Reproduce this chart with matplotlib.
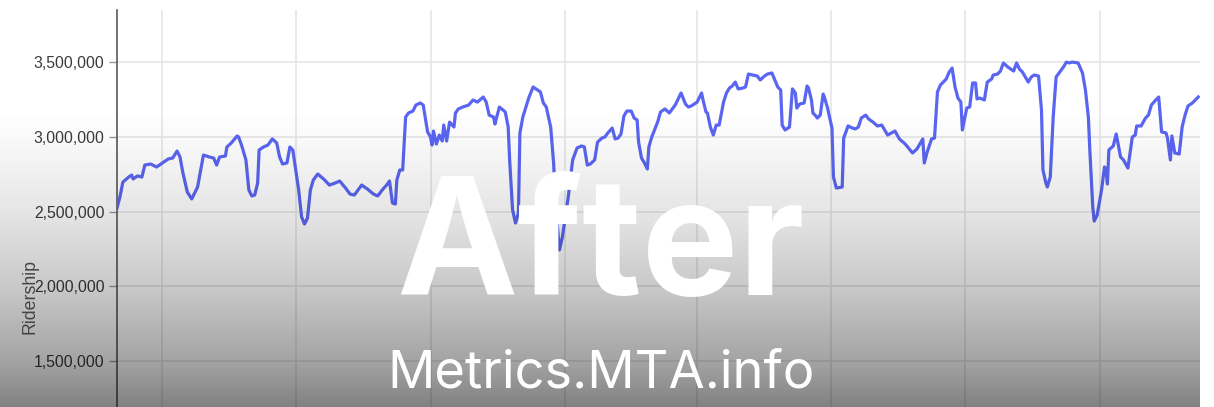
import numpy as np
import pandas as pd
import matplotlib
matplotlib.use("Agg")
import matplotlib.pyplot as plt
import matplotlib.dates as mdates
from matplotlib.ticker import FuncFormatter

# ---- data ----
start_date = "2017-03-01"
days = [0, 2, 4, 8, 10, 11, 14, 17, 19, 23, 27, 31, 35, 38, 41, 43, 45, 48, 51, 55,
        59, 61, 63, 66, 68, 70, 74, 75, 78, 82, 83, 85, 87, 88, 90, 92, 94, 96, 97, 100,
        103, 106, 109, 111, 113, 116, 118, 120, 122, 124, 126, 128, 130, 132, 134, 137, 141, 145, 149, 152,
        156, 159, 162, 167, 171, 175, 178, 181, 184, 186, 188, 190, 191, 193, 195, 197, 199, 202, 204, 207,
        209, 212, 214, 215, 216, 218, 220, 222, 223, 225, 227, 230, 231, 233, 236, 240, 243, 246, 250, 252,
        254, 257, 258, 259, 261, 265, 267, 268, 270, 272, 274, 275, 277, 281, 284, 287, 289, 291, 293, 296,
        298, 300, 302, 304, 308, 311, 314, 317, 319, 321, 323, 326, 328, 331, 333, 335, 338, 340, 342, 344,
        346, 348, 351, 353, 355, 356, 358, 360, 362, 363, 365, 369, 371, 374, 377, 381, 385, 388, 390, 392,
        396, 399, 400, 402, 403, 405, 407, 409, 411, 414, 416, 418, 420, 422, 424, 427, 429, 431, 434, 437,
        439, 442, 444, 447, 449, 451, 453, 454, 456, 459, 461, 463, 464, 466, 469, 471, 472, 474, 475, 477,
        478, 480, 482, 483, 485, 488, 489, 491, 495, 496, 499, 502, 504, 506, 508, 511, 513, 516, 519, 522,
        524, 526, 531, 534, 538, 543, 546, 550, 551, 553, 556, 558, 560, 562, 564, 566, 568, 570, 572, 574,
        576, 577, 580, 582, 584, 586, 587, 589, 592, 594, 597, 598, 601, 603, 605, 608, 612, 614, 616, 618,
        620, 622, 624, 626, 629, 631, 632, 634, 635, 637, 639, 641, 644, 646, 648, 650, 652, 656, 659, 661,
        663, 664, 666, 667, 669, 672, 674, 675, 676, 677, 680, 682, 685, 687, 690, 693, 695, 696, 699, 702,
        704, 706, 709, 711, 713, 716, 717, 719, 720, 722, 725, 727, 729, 731, 734, 736, 738]
ridership_k = [2524, 2598, 2698, 2732, 2745, 2719, 2739, 2732, 2812, 2819, 2799, 2826, 2853, 2859, 2906, 2866, 2759, 2631, 2585, 2665,
               2879, 2873, 2866, 2859, 2812, 2866, 2873, 2933, 2960, 3007, 3000, 2946, 2879, 2846, 2645, 2605, 2611, 2692, 2913, 2933,
               2946, 2987, 2960, 2866, 2819, 2826, 2933, 2913, 2779, 2645, 2464, 2417, 2457, 2645, 2712, 2752, 2719, 2678, 2692, 2705,
               2658, 2618, 2611, 2678, 2651, 2618, 2605, 2645, 2678, 2705, 2558, 2551, 2712, 2779, 2779, 3134, 3161, 3174, 3214, 3228,
               3214, 3034, 3000, 2946, 3040, 2953, 3013, 2973, 3080, 2973, 3100, 3067, 3161, 3188, 3201, 3214, 3248, 3234, 3268, 3234,
               3147, 3134, 3087, 3127, 3201, 3168, 3067, 2846, 2511, 2424, 2491, 3027, 3134, 3261, 3335, 3315, 3302, 3228, 3201, 3067,
               2826, 2464, 2243, 2330, 2598, 2846, 2926, 2940, 2933, 2812, 2819, 2846, 2966, 2993, 3000, 3027, 3060, 2987, 2993, 3020,
               3141, 3174, 3174, 3127, 3114, 2966, 2859, 2826, 2786, 2933, 3000, 3100, 3168, 3188, 3161, 3214, 3295, 3221, 3201, 3208,
               3234, 3295, 3248, 3168, 3161, 3067, 3013, 3080, 3080, 3234, 3295, 3328, 3342, 3368, 3322, 3328, 3335, 3422, 3415, 3409,
               3382, 3409, 3422, 3429, 3382, 3335, 3315, 3080, 3047, 3067, 3322, 3295, 3194, 3221, 3228, 3342, 3328, 3248, 3161, 3141,
               3127, 3147, 3288, 3261, 3194, 3060, 2732, 2658, 2665, 2993, 3074, 3060, 3054, 3067, 3127, 3147, 3121, 3100, 3074, 3080,
               3047, 3013, 3040, 2987, 2953, 2893, 2920, 2987, 2826, 2900, 2987, 2993, 3302, 3348, 3368, 3389, 3435, 3462, 3335, 3261,
               3234, 3047, 3194, 3201, 3362, 3362, 3255, 3261, 3248, 3368, 3389, 3415, 3422, 3442, 3496, 3469, 3442, 3496, 3455, 3435,
               3402, 3368, 3402, 3415, 3409, 3181, 2779, 2692, 2665, 2732, 3134, 3402, 3442, 3469, 3502, 3496, 3502, 3496, 3429, 3315,
               3134, 2913, 2531, 2437, 2477, 2645, 2799, 2786, 2685, 2913, 2940, 3020, 2866, 2846, 2792, 3000, 3013, 3074, 3074, 3127,
               3147, 3214, 3248, 3268, 3034, 3027, 2993, 2846, 3007, 2893, 2886, 3067, 3147, 3208, 3228, 3248, 3268]
y_ticks = [1500000, 2000000, 2500000, 3000000, 3500000]
y_label = "Ridership"
overlay_title = "After"
overlay_sub = "Metrics.MTA.info"

dates = pd.Timestamp(start_date) + pd.to_timedelta(days, unit="D")
ridership = np.array(ridership_k) * 1000

# ---- figure ----
W, H = 1214, 407
fig = plt.figure(figsize=(W / 100, H / 100), dpi=100)
fig.patch.set_facecolor("white")

ax = fig.add_axes([117 / W, 0, (1200 - 117) / W, (H - 10) / H])
ax.set_facecolor("white")
ax.plot(dates, ridership, color="#5a66f2", lw=2.3, solid_joinstyle="round", zorder=3)

ax.set_ylim(1191000, 3851000)
ax.set_xlim(pd.Timestamp(start_date), pd.Timestamp(start_date) + pd.Timedelta(days=739.2))
ax.set_yticks(y_ticks)
ax.yaxis.set_major_formatter(FuncFormatter(lambda v, p: f"{int(v):,}"))
ax.xaxis.set_major_locator(mdates.MonthLocator(bymonth=[1, 4, 7, 10]))
ax.tick_params(axis="x", length=0, labelbottom=False)
ax.tick_params(axis="y", length=6, width=1, color="#999999", pad=3,
               labelsize=11.3, labelcolor="#3a3a3a")
for lab in ax.get_yticklabels():
    lab.set_fontfamily("Liberation Sans")
ax.grid(True, color="#e6e6e6", lw=1.2, zorder=0)
for s in ["top", "right", "bottom"]:
    ax.spines[s].set_visible(False)
ax.spines["left"].set_color("#5a5a5a")
ax.spines["left"].set_linewidth(1.2)

fig.text(30 / W, 1 - 296 / H, y_label, rotation=90, ha="center", va="center",
         fontsize=12.8, color="#444444", family="Liberation Sans", zorder=2)

# ---- gradient overlay ----
ov = fig.add_axes([0, 0, 1200 / W, 1], zorder=1)
ov.set_axis_off()
rows = np.arange(H)
ctrl_y = [0, 110, 137, 211, 286, 361, 407]
ctrl_g = [255, 255, 249, 229, 200, 163, 128]
grey = np.interp(rows, ctrl_y, ctrl_g)
alpha = 1 - grey / 255.0
img = np.zeros((H, 1, 4))
img[:, 0, 3] = alpha
ov.imshow(img, aspect="auto", extent=[0, 1, 0, 1], origin="upper", interpolation="bilinear")
ov.set_xlim(0, 1)
ov.set_ylim(0, 1)

fig.text(600 / W, 1 - 295 / H, overlay_title, ha="center", va="baseline",
         fontsize=117, fontweight="bold", family="Inter", color="white", zorder=5)
fig.text(601 / W, 1 - 387 / H, overlay_sub, ha="center", va="baseline",
         fontsize=37.8, family="Inter", color="white", zorder=5)

fig.savefig("out.png", dpi=100, facecolor="white")
